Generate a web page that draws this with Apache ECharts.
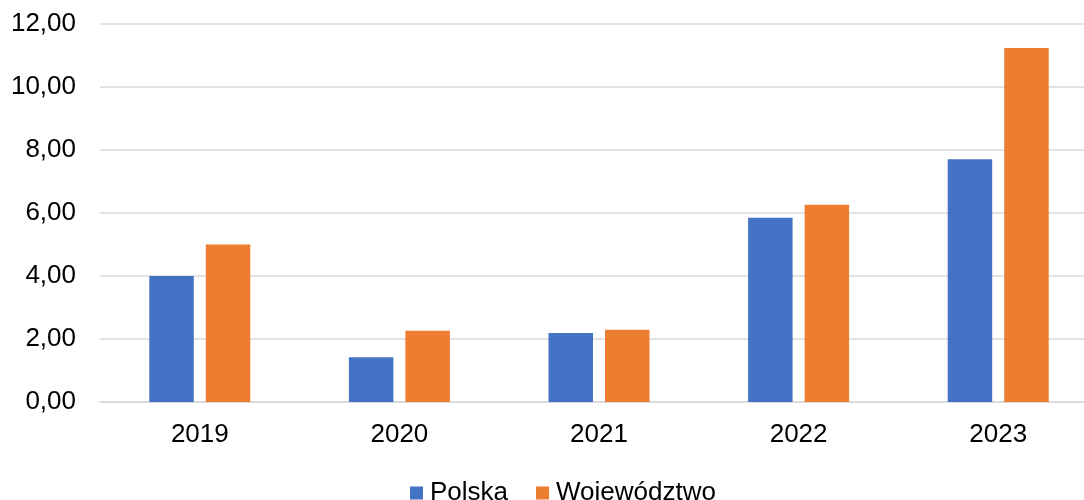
<!DOCTYPE html>
<html lang="pl">
<head>
<meta charset="UTF-8">
<script src="https://cdn.jsdelivr.net/npm/echarts@6/dist/echarts.min.js"></script>
<title>Polska / Województwo</title>
<style>
  body { margin: 0; padding: 0; background: #fff; overflow: hidden; }
  /* wykres w oryginale wychodzi poza prawą krawędź, stąd szerszy kontener */
  #chart { width: 1100px; height: 500px; }
</style>
</head>
<body>
<div id="chart"></div>
<script>
  // dane
  const years = ['2019', '2020', '2021', '2022', '2023'];
  const polska = [4.00, 1.42, 2.19, 5.85, 7.71];
  const wojewodztwo = [5.00, 2.26, 2.29, 6.26, 11.24];

  const chart = echarts.init(document.getElementById('chart'));

  const font = 'Liberation Sans, Arial, sans-serif';

  const option = {
    animation: false,
    color: ['#4472C4', '#ED7D31'],
    grid: {
      left: 100,
      top: 24,
      right: 2,
      bottom: 98
    },
    legend: {
      data: ['Polska', 'Województwo'],
      left: 405,
      top: 475,
      icon: 'rect',
      itemWidth: 13,
      itemHeight: 13,
      itemGap: 28,
      textStyle: { fontFamily: font, fontSize: 26, color: '#000', padding: [0, 0, 0, 2] }
    },
    xAxis: {
      type: 'category',
      data: years,
      axisTick: { show: false },
      axisLine: { lineStyle: { color: '#d9d9d9', width: 1.5 } },
      axisLabel: { fontFamily: font, fontSize: 26, color: '#000', margin: 20 }
    },
    yAxis: {
      type: 'value',
      min: 0,
      max: 12,
      interval: 2,
      axisLine: { show: false },
      axisTick: { show: false },
      splitLine: { lineStyle: { color: '#d9d9d9', width: 1.5 } },
      axisLabel: {
        fontFamily: font, fontSize: 26, color: '#000', margin: 24,
        formatter: function (v) { return v.toFixed(2).replace('.', ','); }
      }
    },
    series: [
      {
        name: 'Polska',
        type: 'bar',
        data: polska,
        barWidth: 44.5,
        barGap: '27%'
      },
      {
        name: 'Województwo',
        type: 'bar',
        data: wojewodztwo,
        barWidth: 44.5
      }
    ]
  };

  chart.setOption(option);
</script>
</body>
</html>
